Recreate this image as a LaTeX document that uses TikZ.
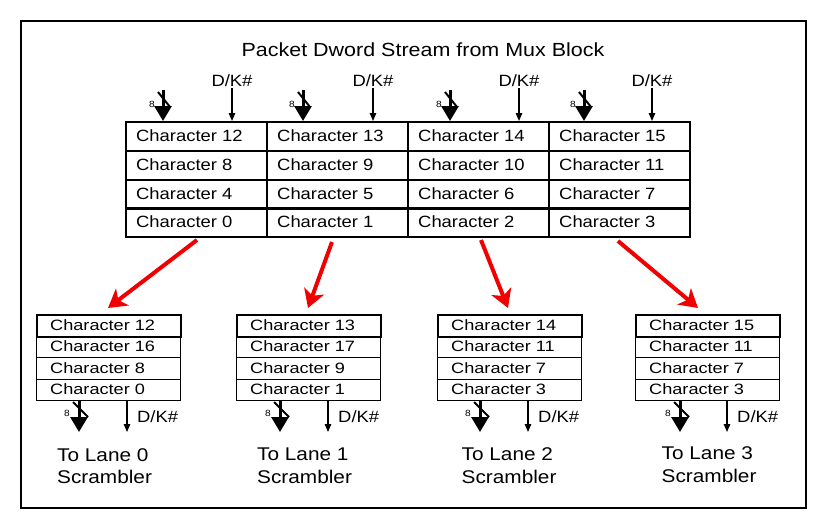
\documentclass[tikz,border=0pt]{standalone}
\usepackage{fontspec}
\setmainfont{Liberation Sans}[FakeStretch=1.13]
\newfontfamily\widefont{Liberation Sans}[FakeStretch=1.21]
\usetikzlibrary{arrows.meta}
\definecolor{arrowred}{RGB}{240,0,0}
\tikzset{
  frame/.style={draw=black, line width=2.3pt},
  topcell/.style={draw=black, line width=2.3pt, rectangle, anchor=north west, minimum width=141pt, minimum height=28.75pt, inner sep=0pt},
  botcell/.style={draw=black, line width=1.3pt, rectangle, anchor=north west, minimum width=144pt, minimum height=21.5pt, inner sep=0pt},
  bottop/.style={botcell, line width=2pt},
  toptext/.style={anchor=base west, inner sep=0pt, font=\fontsize{16.3}{19}\selectfont},
  bottext/.style={anchor=base west, inner sep=0pt, font=\widefont\fontsize{15}{18}\selectfont},
  dktext/.style={inner sep=0pt, font=\fontsize{16.3}{19}\selectfont},
  lanetext/.style={anchor=base west, inner sep=0pt, font=\fontsize{18.4}{22}\selectfont},
  eight/.style={inner sep=0pt, font=\fontsize{9}{10}\selectfont},
  bus/.style={draw=black, line width=3pt, -{Triangle[length=15pt,width=17pt]}},
  busslash/.style={draw=black, line width=2pt},
  dkarrow/.style={draw=black, line width=1.3pt, -{Triangle[length=8pt,width=6.5pt]}},
  redarrow/.style={draw=arrowred, line width=4pt, -{Stealth[length=18pt,width=21pt,inset=5pt]}}
}
\begin{document}
\begin{tikzpicture}[x=1pt,y=-1pt]
\useasboundingbox (0,0) rectangle (828,522);
\draw[frame] (21,21) rectangle (806,508);
\node[inner sep=0pt, anchor=base, font=\fontsize{19}{22}\selectfont] (title) at (423,56.7) {Packet Dword Stream from Mux Block};

% top table
\foreach \c/\x in {0/125,1/266,2/407,3/548}{
  \foreach \r/\y in {0/121,1/149.75,2/178.5,3/207.25}{
    \pgfmathtruncatemacro{\n}{12-4*\r+\c}
    \node[topcell] (tc\c r\r) at (\x,\y) {};
    \node[toptext] (tt\c r\r) at (\x+11,\y+20.5) {Character \n};
  }
}

% top inputs
\foreach \i/\bx/\dx in {0/163/232,1/303/373,2/450/519,3/584/652}{
  \coordinate (tbs\i) at (\bx,90);
  \coordinate (tbe\i) at (\bx,121);
  \draw[bus] (tbs\i) -- (tbe\i);
  \draw[busslash] (\bx-5,92) -- (\bx+7,107);
  \node[eight] (te\i) at (\bx-11,104) {8};
  \node[dktext, anchor=base] (tdk\i) at (\dx,86) {D/K\#};
  \coordinate (tds\i) at (\dx,88);
  \coordinate (tde\i) at (\dx,121);
  \draw[dkarrow] (tds\i) -- (tde\i);
}

% bottom boxes
\foreach \b/\x/\na/\nb/\nc/\nd in {0/36/12/16/8/0,1/236/13/17/9/1,2/437/14/11/7/3,3/635/15/11/7/3}{
  \node[botcell] (bc\b r1) at (\x,335.5) {};
  \node[botcell] (bc\b r2) at (\x,357) {};
  \node[botcell] (bc\b r3) at (\x,378.5) {};
  \node[bottop] (bc\b r0) at (\x,314) {};
  \node[bottext] (bt\b r0) at (\x+14,330.7) {Character \na};
  \node[bottext] (bt\b r1) at (\x+14,351.9) {Character \nb};
  \node[bottext] (bt\b r2) at (\x+14,373.3) {Character \nc};
  \node[bottext] (bt\b r3) at (\x+14,394.8) {Character \nd};
}

% bottom outputs
\foreach \i/\bx/\dx in {0/79/127,1/280/328,2/480/528,3/680/727}{
  \coordinate (bbs\i) at (\bx,400);
  \coordinate (bbe\i) at (\bx,432);
  \draw[bus] (bbs\i) -- (bbe\i);
  \draw[busslash] (\bx-6,402) -- (\bx+9,417);
  \node[eight] (be\i) at (\bx-12,413) {8};
  \coordinate (bds\i) at (\dx,400);
  \coordinate (bde\i) at (\dx,432);
  \draw[dkarrow] (bds\i) -- (bde\i);
  \node[dktext, anchor=base west] (bdk\i) at (\dx+10,422.7) {D/K\#};
}

% lane labels
\node[lanetext] (l0a) at (57,461) {To Lane 0};
\node[lanetext] (l0b) at (57,483.3) {Scrambler};
\node[lanetext] (l1a) at (257,460.5) {To Lane 1};
\node[lanetext] (l1b) at (257,483) {Scrambler};
\node[lanetext] (l2a) at (461.5,460.5) {To Lane 2};
\node[lanetext] (l2b) at (461.5,483) {Scrambler};
\node[lanetext] (l3a) at (661.5,459) {To Lane 3};
\node[lanetext] (l3b) at (661.5,482) {Scrambler};

% red arrows
\coordinate (rs0) at (197,240); \coordinate (re0) at (108,308);
\coordinate (rs1) at (332,242); \coordinate (re1) at (308,308);
\coordinate (rs2) at (481,240); \coordinate (re2) at (508,308);
\coordinate (rs3) at (618,241); \coordinate (re3) at (698,308);
\foreach \i in {0,1,2,3}{ \draw[redarrow] (rs\i) -- (re\i); }
\end{tikzpicture}
\end{document}
